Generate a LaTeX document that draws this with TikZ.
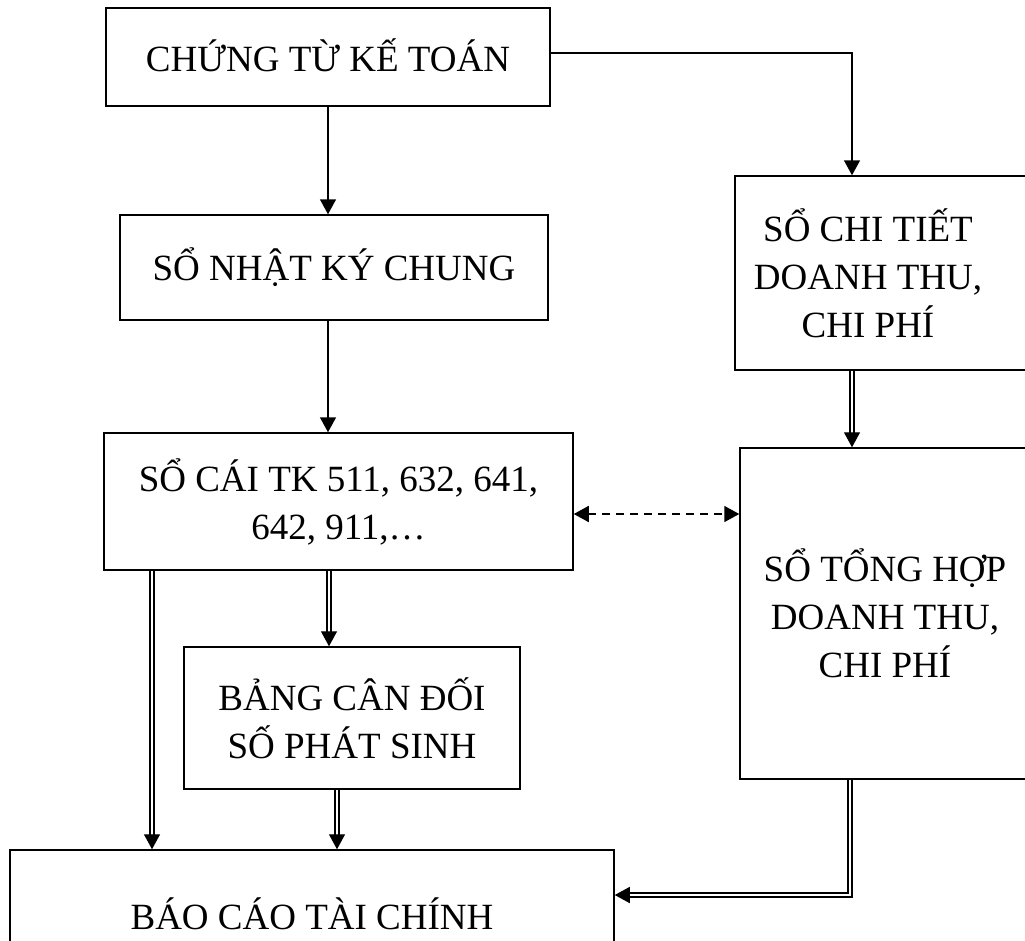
\documentclass[tikz,border=0pt]{standalone}
\usepackage{fontspec}
\setmainfont{Liberation Serif}
\usetikzlibrary{arrows.meta}
\begin{document}
\begin{tikzpicture}[x=1pt,y=-1pt,
  txt/.style={align=center, inner sep=0pt, font=\fontsize{37}{48}\selectfont},
  box/.style={draw, line width=1.5pt, txt},
  arr/.style={line width=1.6pt, -{Triangle[length=15pt,width=16pt]}},
  dbl/.style={line width=1.4pt, double, double distance=2.4pt,
    -{Triangle[length=15pt,width=16pt]}},
  dsh/.style={line width=1.6pt, dash pattern=on 8pt off 6pt,
    {Triangle[length=15pt,width=16pt]}-{Triangle[length=15pt,width=16pt]}}]
\path[use as bounding box, clip] (0,0) rectangle (1025,940);

% left column
\node[box, minimum width=444pt, minimum height=98pt] (ct) at (328,57) {\raisebox{3pt}{CHỨNG TỪ KẾ TOÁN}};
\node[box, minimum width=428pt, minimum height=105pt] (nk) at (334,267.5) {SỔ NHẬT KÝ CHUNG};
\node[box, minimum width=469pt, minimum height=137pt] (sc) at (338.5,501.5) {SỔ CÁI TK 511, 632, 641,\\642, 911,…};
\node[box, minimum width=336pt, minimum height=142pt] (cd) at (352,718) {BẢNG CÂN ĐỐI\\SỐ PHÁT SINH};
\node[box, minimum width=604pt, minimum height=127pt] (bc) at (312,913.5) {BÁO CÁO TÀI CHÍNH};

% right column (boxes run past the right edge)
\node[box, minimum width=300pt, minimum height=194pt] (chitiet) at (885,273) {};
\node[txt] (chitietT) at (868,273) {SỔ CHI TIẾT\\DOANH THU,\\CHI PHÍ};
\node[box, minimum width=300pt, minimum height=331pt] (tonghop) at (890,613.5) {};
\node[txt] (tonghopT) at (885,613.5) {SỔ TỔNG HỢP\\DOANH THU,\\CHI PHÍ};

% connectors
\draw[arr] (ct.south) -- (ct.south |- nk.north);
\draw[arr] ([xshift=-6pt]nk.south) -- ([xshift=-6pt]nk.south |- sc.north);
\draw[arr] ([yshift=4pt]ct.east) -| ([xshift=-33pt]chitiet.north);
\draw[dbl] ([xshift=-33pt]chitiet.south) -- ([xshift=-33pt]chitiet.south |- tonghop.north);
\draw[dbl] ([xshift=-40pt]tonghop.south) |- ([yshift=18.5pt]bc.east);
\draw[dbl] ([xshift=-186.5pt]sc.south) -- ([xshift=-186.5pt]sc.south |- bc.north);
\draw[dbl] ([xshift=-9.5pt]sc.south) -- ([xshift=-9.5pt]sc.south |- cd.north);
\draw[dbl] ([xshift=-15pt]cd.south) -- ([xshift=-15pt]cd.south |- bc.north);
\draw[dsh] ([yshift=-12.5pt]sc.east) -- ([yshift=-12.5pt]sc.east -| tonghop.west);
\end{tikzpicture}
\end{document}
